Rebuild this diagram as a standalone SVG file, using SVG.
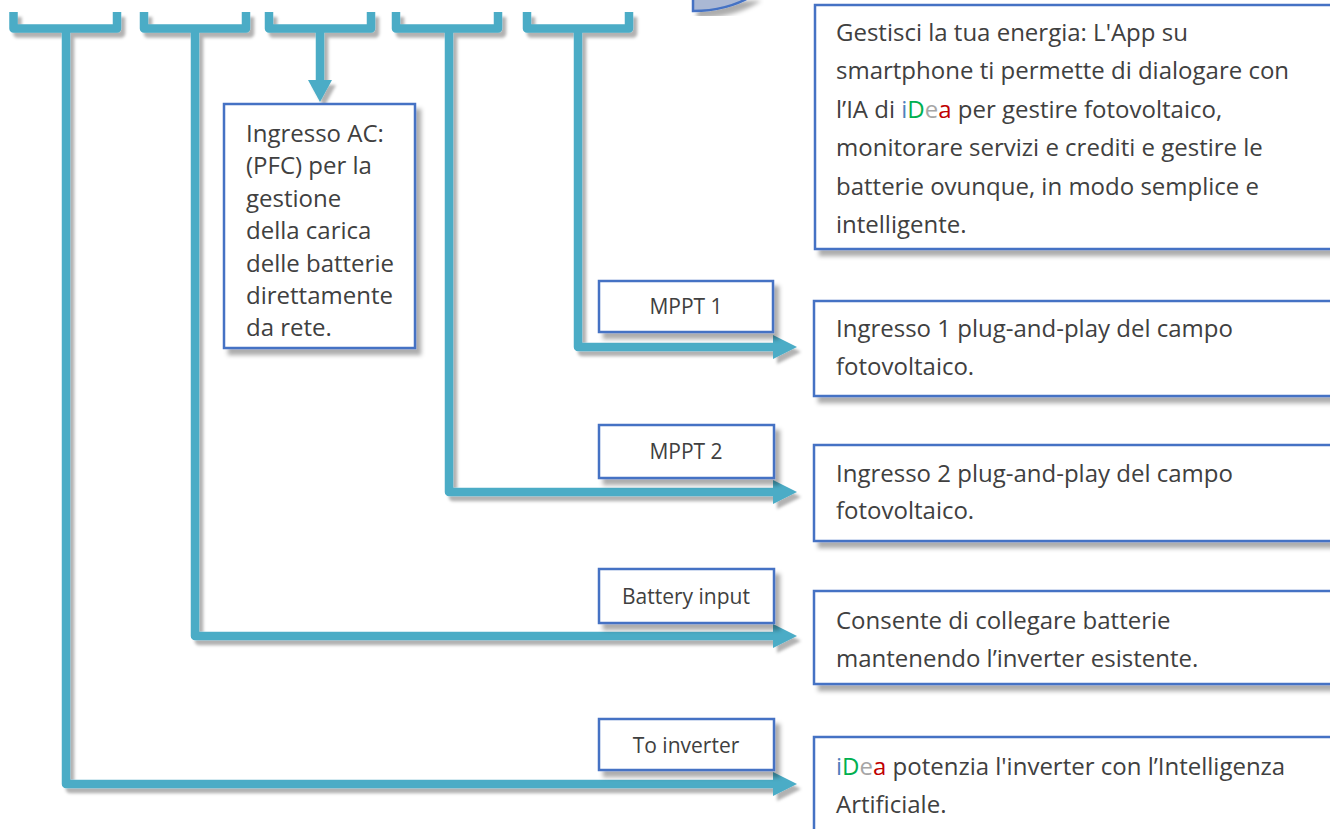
<svg xmlns="http://www.w3.org/2000/svg" width="1330" height="829" viewBox="0 0 1330 829">
<defs>
<filter id="sh" x="-10%" y="-10%" width="130%" height="140%">
<feDropShadow dx="5" dy="6" stdDeviation="2.2" flood-color="#000" flood-opacity="0.32"/>
</filter>
<filter id="shl" x="-5%" y="-5%" width="115%" height="130%">
<feDropShadow dx="4" dy="5" stdDeviation="1.8" flood-color="#000" flood-opacity="0.30"/>
</filter>
</defs>
<style>
.box{fill:#fff;stroke:#4472c4;stroke-width:2.5}
.t{font-family:"Open Sans","Noto Sans","Liberation Sans",sans-serif;font-size:24px;fill:#404040}
.lt{font-family:"Open Sans","Noto Sans","Liberation Sans",sans-serif;font-size:21px;fill:#404040;text-anchor:middle}
.ln{fill:none;stroke:#4bacc6;stroke-width:8.5;stroke-linejoin:round}
.hd{fill:#4bacc6}
.ib{fill:#4f81bd}.ig{fill:#00b050}.ie{fill:#a6a6a6}.ia{fill:#c00000}
</style>
<rect width="1330" height="829" fill="#fff"/>

<g id="app-bubble" filter="url(#sh)">
<path d="M693,-4 L693,11 C716,11 735,6 752,-4 Z" fill="#aab8d4" stroke="#4472c4" stroke-width="2.5"/>
</g>

<g id="connectors" filter="url(#shl)">
<path class="ln" d="M13.5,12 V28.5 H117 V12"/>
<path class="ln" d="M144,12 V28.5 H246 V12"/>
<path class="ln" d="M269,12 V28.5 H371 V12"/>
<path class="ln" d="M396,12 V28.5 H498 V12"/>
<path class="ln" d="M527,12 V28.5 H629 V12"/>
<path class="ln" d="M66,30 V784 H774"/>
<polygon class="hd" points="773,772 797,784 773,796"/>
<path class="ln" d="M195,30 V636 H774"/>
<polygon class="hd" points="773,624 797,636 773,648"/>
<path class="ln" d="M320,30 V82"/>
<polygon class="hd" points="308,80 332,80 320,102"/>
<path class="ln" d="M449,30 V492 H774"/>
<polygon class="hd" points="773,480 797,492 773,504"/>
<path class="ln" d="M578,30 V347 H774"/>
<polygon class="hd" points="773,335 797,347 773,359"/>
</g>

<g id="ac-input">
<rect class="box" x="224" y="104" width="191" height="244" filter="url(#sh)"/>
<text class="t"><tspan x="246" y="142">Ingresso AC:</tspan><tspan x="246" y="174.4">(PFC) per la</tspan><tspan x="246" y="206.8">gestione</tspan><tspan x="246" y="239.2">della carica</tspan><tspan x="246" y="271.6">delle batterie</tspan><tspan x="246" y="304">direttamente</tspan><tspan x="246" y="336.4">da rete.</tspan></text>
</g>

<g id="app-desc">
<rect class="box" x="815" y="5" width="530" height="244" filter="url(#sh)"/>
<text class="t"><tspan x="836" y="41">Gestisci la tua energia: L'App su</tspan><tspan x="836" y="79.4">smartphone ti permette di dialogare con</tspan><tspan x="836" y="117.8">l’IA di <tspan class="ib">i</tspan><tspan class="ig">D</tspan><tspan class="ie">e</tspan><tspan class="ia">a</tspan> per gestire fotovoltaico,</tspan><tspan x="836" y="156.2">monitorare servizi e crediti e gestire le</tspan><tspan x="836" y="194.6">batterie ovunque, in modo semplice e</tspan><tspan x="836" y="233">intelligente.</tspan></text>
</g>

<g id="mppt1-label">
<rect class="box" x="599" y="281" width="174" height="51" filter="url(#sh)"/>
<text class="lt" x="686" y="314">MPPT 1</text>
</g>
<g id="mppt1-desc">
<rect class="box" x="814" y="301" width="530" height="95" filter="url(#sh)"/>
<text class="t"><tspan x="836" y="337">Ingresso 1 plug-and-play del campo</tspan><tspan x="836" y="375">fotovoltaico.</tspan></text>
</g>

<g id="mppt2-label">
<rect class="box" x="599" y="425" width="175" height="53" filter="url(#sh)"/>
<text class="lt" x="686" y="459">MPPT 2</text>
</g>
<g id="mppt2-desc">
<rect class="box" x="814" y="445" width="530" height="96" filter="url(#sh)"/>
<text class="t"><tspan x="836" y="482">Ingresso 2 plug-and-play del campo</tspan><tspan x="836" y="519">fotovoltaico.</tspan></text>
</g>

<g id="battery-label">
<rect class="box" x="599" y="569" width="175" height="54" filter="url(#sh)"/>
<text class="lt" x="686" y="604">Battery input</text>
</g>
<g id="battery-desc">
<rect class="box" x="814" y="591" width="530" height="93" filter="url(#sh)"/>
<text class="t"><tspan x="836" y="629">Consente di collegare batterie</tspan><tspan x="836" y="667">mantenendo l’inverter esistente.</tspan></text>
</g>

<g id="inverter-label">
<rect class="box" x="599" y="719" width="175" height="51" filter="url(#sh)"/>
<text class="lt" x="686" y="753">To inverter</text>
</g>
<g id="inverter-desc">
<rect class="box" x="814" y="737" width="530" height="115" filter="url(#sh)"/>
<text class="t"><tspan x="836" y="775"><tspan class="ib">i</tspan><tspan class="ig">D</tspan><tspan class="ie">e</tspan><tspan class="ia">a</tspan> potenzia l'inverter con l’Intelligenza</tspan><tspan x="836" y="813">Artificiale.</tspan></text>
</g>
</svg>
